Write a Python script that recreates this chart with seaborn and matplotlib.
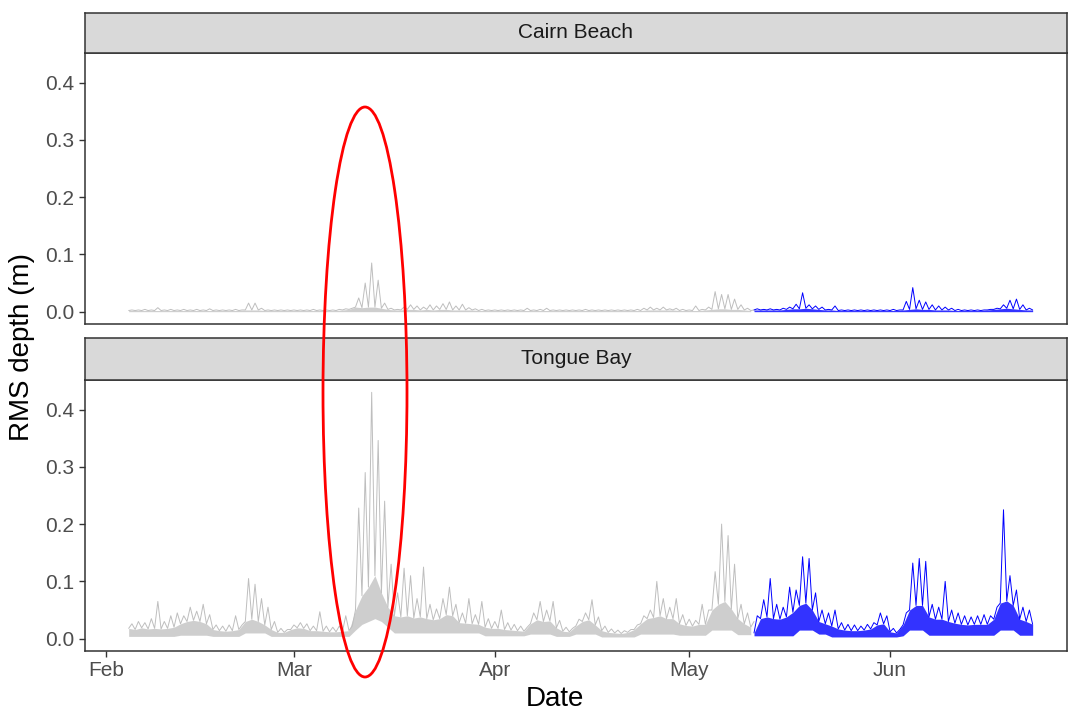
import numpy as np
import pandas as pd
import matplotlib
matplotlib.use("Agg")
import matplotlib.pyplot as plt
import matplotlib.dates as mdates
from matplotlib.patches import Ellipse
import seaborn as sns

# ---------------- data ----------------
# 12-hourly samples; even positions = top of the dense noise band,
# odd positions = spike peaks.  *_floor = bottom of the noise band
# at the even positions.
sites = ["Cairn Beach", "Tongue Bay"]
grey_start = "2020-02-04 12:00"
blue_start = "2020-05-11 00:00"
sample_step = "12h"

cb_grey = [
    0.002, 0.003, 0.002, 0.003, 0.002, 0.004, 0.002, 0.003, 0.002, 0.007,
    0.002, 0.003, 0.002, 0.004, 0.002, 0.003, 0.002, 0.004, 0.002, 0.003,
    0.002, 0.004, 0.002, 0.003, 0.002, 0.005, 0.002, 0.003, 0.002, 0.003,
    0.002, 0.003, 0.002, 0.004, 0.002, 0.003, 0.003, 0.015, 0.003, 0.015,
    0.003, 0.006, 0.002, 0.003, 0.002, 0.003, 0.002, 0.003, 0.002, 0.003,
    0.002, 0.003, 0.002, 0.003, 0.002, 0.003, 0.002, 0.004, 0.002, 0.003,
    0.002, 0.003, 0.002, 0.003, 0.002, 0.004, 0.003, 0.005, 0.004, 0.006,
    0.008, 0.024, 0.007, 0.050, 0.008, 0.085, 0.008, 0.055, 0.006, 0.015,
    0.004, 0.006, 0.003, 0.004, 0.003, 0.008, 0.004, 0.012, 0.004, 0.010,
    0.003, 0.008, 0.004, 0.012, 0.003, 0.010, 0.004, 0.014, 0.004, 0.017,
    0.003, 0.010, 0.003, 0.013, 0.003, 0.007, 0.003, 0.005, 0.002, 0.004,
    0.002, 0.003, 0.002, 0.003, 0.002, 0.003, 0.002, 0.003, 0.002, 0.003,
    0.002, 0.003, 0.002, 0.006, 0.002, 0.003, 0.002, 0.004, 0.002, 0.006,
    0.002, 0.003, 0.002, 0.003, 0.002, 0.003, 0.002, 0.003, 0.002, 0.003,
    0.002, 0.004, 0.002, 0.003, 0.002, 0.003, 0.002, 0.003, 0.002, 0.003,
    0.002, 0.003, 0.002, 0.003, 0.002, 0.003, 0.002, 0.004, 0.002, 0.006,
    0.003, 0.008, 0.003, 0.006, 0.003, 0.008, 0.003, 0.005, 0.003, 0.006,
    0.002, 0.004, 0.002, 0.003, 0.002, 0.010, 0.002, 0.004, 0.003, 0.008,
    0.004, 0.035, 0.005, 0.030, 0.005, 0.030, 0.004, 0.022, 0.004, 0.012,
    0.003, 0.006, 0.002, 0.003,
]
cb_blue = [
    0.003, 0.005, 0.003, 0.004, 0.003, 0.005, 0.003, 0.004, 0.003, 0.006,
    0.004, 0.008, 0.005, 0.013, 0.005, 0.033, 0.006, 0.012, 0.005, 0.010,
    0.004, 0.008, 0.003, 0.004, 0.003, 0.010, 0.002, 0.003, 0.002, 0.003,
    0.002, 0.003, 0.002, 0.003, 0.002, 0.003, 0.002, 0.003, 0.002, 0.003,
    0.002, 0.003, 0.002, 0.004, 0.002, 0.003, 0.003, 0.018, 0.004, 0.042,
    0.005, 0.020, 0.004, 0.017, 0.004, 0.012, 0.003, 0.010, 0.003, 0.008,
    0.003, 0.006, 0.002, 0.004, 0.002, 0.003, 0.002, 0.003, 0.002, 0.003,
    0.002, 0.003, 0.003, 0.004, 0.004, 0.006, 0.005, 0.012, 0.006, 0.020,
    0.005, 0.022, 0.004, 0.012, 0.003, 0.006, 0.003,
]
tb_grey = [
    0.018, 0.026, 0.016, 0.030, 0.019, 0.028, 0.017, 0.035, 0.018, 0.065,
    0.017, 0.030, 0.018, 0.040, 0.020, 0.045, 0.026, 0.040, 0.030, 0.055,
    0.032, 0.048, 0.030, 0.060, 0.026, 0.042, 0.016, 0.024, 0.014, 0.022,
    0.013, 0.024, 0.014, 0.040, 0.016, 0.024, 0.030, 0.105, 0.034, 0.095,
    0.030, 0.070, 0.024, 0.055, 0.016, 0.030, 0.011, 0.018, 0.011, 0.016,
    0.016, 0.024, 0.019, 0.028, 0.018, 0.026, 0.014, 0.022, 0.014, 0.047,
    0.013, 0.022, 0.012, 0.020, 0.012, 0.022, 0.013, 0.040, 0.014, 0.022,
    0.050, 0.228, 0.075, 0.290, 0.090, 0.430, 0.110, 0.346, 0.080, 0.240,
    0.055, 0.130, 0.040, 0.080, 0.038, 0.123, 0.040, 0.110, 0.036, 0.070,
    0.038, 0.125, 0.035, 0.060, 0.033, 0.052, 0.035, 0.070, 0.042, 0.090,
    0.040, 0.060, 0.028, 0.045, 0.027, 0.070, 0.026, 0.042, 0.025, 0.065,
    0.020, 0.035, 0.018, 0.030, 0.018, 0.050, 0.016, 0.028, 0.015, 0.025,
    0.014, 0.022, 0.013, 0.020, 0.026, 0.045, 0.033, 0.065, 0.030, 0.050,
    0.031, 0.065, 0.019, 0.032, 0.013, 0.020, 0.012, 0.018, 0.022, 0.034,
    0.030, 0.045, 0.033, 0.068, 0.024, 0.038, 0.014, 0.022, 0.011, 0.017,
    0.010, 0.015, 0.009, 0.014, 0.011, 0.016, 0.016, 0.024, 0.026, 0.040,
    0.035, 0.050, 0.037, 0.100, 0.040, 0.070, 0.035, 0.055, 0.035, 0.070,
    0.026, 0.042, 0.023, 0.034, 0.022, 0.032, 0.025, 0.060, 0.025, 0.050,
    0.050, 0.117, 0.060, 0.200, 0.065, 0.180, 0.052, 0.130, 0.035, 0.060,
    0.026, 0.045, 0.020, 0.030,
]
tb_grey_floor = [
    0.004, 0.004, 0.004, 0.004, 0.004, 0.004, 0.004, 0.004, 0.006, 0.006,
    0.006, 0.006, 0.006, 0.004, 0.004, 0.004, 0.004, 0.004, 0.010, 0.010,
    0.010, 0.010, 0.004, 0.004, 0.004, 0.004, 0.004, 0.004, 0.004, 0.004,
    0.004, 0.004, 0.004, 0.004, 0.004, 0.015, 0.025, 0.030, 0.035, 0.030,
    0.020, 0.010, 0.010, 0.010, 0.010, 0.010, 0.010, 0.010, 0.010, 0.010,
    0.010, 0.010, 0.010, 0.010, 0.010, 0.005, 0.005, 0.005, 0.005, 0.005,
    0.005, 0.005, 0.008, 0.008, 0.008, 0.008, 0.004, 0.004, 0.004, 0.008,
    0.008, 0.008, 0.008, 0.003, 0.003, 0.003, 0.003, 0.003, 0.003, 0.008,
    0.008, 0.008, 0.008, 0.008, 0.008, 0.006, 0.006, 0.006, 0.006, 0.006,
    0.015, 0.015, 0.015, 0.015, 0.007, 0.007, 0.007,
]
tb_blue = [
    0.010, 0.040, 0.035, 0.068, 0.038, 0.105, 0.035, 0.060, 0.034, 0.055,
    0.038, 0.090, 0.046, 0.085, 0.058, 0.143, 0.062, 0.140, 0.050, 0.080,
    0.030, 0.050, 0.026, 0.045, 0.022, 0.050, 0.017, 0.028, 0.015, 0.025,
    0.014, 0.024, 0.014, 0.022, 0.015, 0.025, 0.017, 0.028, 0.024, 0.045,
    0.026, 0.040, 0.012, 0.018, 0.010, 0.016, 0.024, 0.045, 0.050, 0.132,
    0.058, 0.140, 0.058, 0.135, 0.038, 0.060, 0.034, 0.055, 0.034, 0.100,
    0.030, 0.050, 0.027, 0.045, 0.025, 0.040, 0.024, 0.038, 0.025, 0.040,
    0.025, 0.042, 0.025, 0.040, 0.034, 0.055, 0.062, 0.225, 0.066, 0.110,
    0.058, 0.085, 0.034, 0.055, 0.030, 0.050, 0.025,
]
tb_blue_floor = [
    0.005, 0.005, 0.005, 0.005, 0.005, 0.005, 0.005, 0.015, 0.015, 0.015,
    0.008, 0.008, 0.003, 0.003, 0.003, 0.003, 0.003, 0.003, 0.003, 0.003,
    0.003, 0.003, 0.003, 0.005, 0.015, 0.015, 0.015, 0.006, 0.006, 0.006,
    0.006, 0.006, 0.006, 0.006, 0.006, 0.006, 0.006, 0.006, 0.015, 0.015,
    0.015, 0.006, 0.006, 0.006,
]

month_ticks = ["2020-02-01", "2020-03-01", "2020-04-01", "2020-05-01", "2020-06-01"]
month_labels = ["Feb", "Mar", "Apr", "May", "Jun"]
y_ticks = [0.0, 0.1, 0.2, 0.3, 0.4]
y_tick_labels = ["0.0", "0.1", "0.2", "0.3", "0.4"]

# ---------------- build tables ----------------
series = {
    ("Cairn Beach", "grey"): (grey_start, cb_grey, None),
    ("Cairn Beach", "blue"): (blue_start, cb_blue, None),
    ("Tongue Bay", "grey"): (grey_start, tb_grey, tb_grey_floor),
    ("Tongue Bay", "blue"): (blue_start, tb_blue, tb_blue_floor),
}
frames = []
for (site, phase), (start, vals, floor) in series.items():
    t = pd.date_range(start, periods=len(vals), freq=sample_step)
    frames.append(pd.DataFrame({"site": site, "phase": phase, "time": t, "rms": vals}))
df = pd.concat(frames, ignore_index=True)

# ---------------- style ----------------
sns.set_style("white")
plt.rcParams["font.family"] = ["Liberation Sans", "DejaVu Sans"]

W, H = 1068, 710
fig = plt.figure(figsize=(W / 100, H / 100), dpi=100)
fig.patch.set_facecolor("white")

def fx(px):
    return px / W

def fy(py):
    return 1 - py / H

left_px, right_px = 85, 1067
panels = {
    "Cairn Beach": dict(strip=(13, 53), panel=(53, 324)),
    "Tongue Bay": dict(strip=(338, 380), panel=(380, 651)),
}
phase_colors = {"grey": "#BEBEBE", "blue": "#0000FF"}
band_alpha = {"grey": 0.75, "blue": 0.8}
border = "#333333"

x0 = pd.Timestamp("2020-02-01")
xlim = (mdates.date2num(x0 - pd.Timedelta(days=3.24)),
        mdates.date2num(x0 + pd.Timedelta(days=148.3)))

for site in sites:
    st, pn = panels[site]["strip"], panels[site]["panel"]
    ax = fig.add_axes([fx(left_px), fy(pn[1]), fx(right_px - left_px), (pn[1] - pn[0]) / H])
    for phase in ["grey", "blue"]:
        start, vals, floor = series[(site, phase)]
        s = df[(df["site"] == site) & (df["phase"] == phase)]
        # dense noise band: from its floor up to the band top (even samples)
        band = s.iloc[::2]
        lower = floor if floor is not None else np.zeros(len(band))
        ax.fill_between(band["time"], lower, band["rms"], color=phase_colors[phase],
                        alpha=band_alpha[phase], linewidth=0, zorder=2)
        sns.lineplot(data=s, x="time", y="rms", color=phase_colors[phase],
                     linewidth=0.7, estimator=None, ax=ax, legend=False, zorder=3)
    ax.set_xlim(*xlim)
    ax.set_ylim(-0.0215, 0.4515)
    ax.set_yticks(y_ticks)
    ax.set_yticklabels(y_tick_labels)
    ax.set_xticks([mdates.date2num(pd.Timestamp(d)) for d in month_ticks])
    ax.set_xlabel("")
    ax.set_ylabel("")
    ax.grid(False)
    for sp in ax.spines.values():
        sp.set_color(border)
        sp.set_linewidth(1.1)
    ax.tick_params(axis="both", which="both", length=4.5, width=1.0, color=border,
                   labelcolor="#4D4D4D", labelsize=15, pad=3, direction="out",
                   bottom=True, left=True)
    if site == "Tongue Bay":
        ax.set_xticklabels(month_labels)
    else:
        ax.tick_params(axis="x", bottom=False, labelbottom=False)

    # facet strip
    sax = fig.add_axes([fx(left_px), fy(st[1]), fx(right_px - left_px), (st[1] - st[0]) / H])
    sax.set_facecolor("#D9D9D9")
    sax.set_xticks([])
    sax.set_yticks([])
    for sp in sax.spines.values():
        sp.set_color(border)
        sp.set_linewidth(1.1)
    sax.text(0.5, 0.5, site, ha="center", va="center", fontsize=15,
             color="#1A1A1A", transform=sax.transAxes)

fig.text(fx(22), fy(347), "RMS depth (m)", rotation=90, ha="center", va="center",
         fontsize=20, color="black")
fig.text(fx(555), fy(699), "Date", ha="center", va="center", fontsize=20, color="black")

# red highlight ellipse drawn over the figure
ell = Ellipse((fx(365), fy(392)), fx(84), 570 / H, transform=fig.transFigure,
              fill=False, edgecolor="#FF0000", linewidth=2.0, clip_on=False, zorder=10)
fig.add_artist(ell)

fig.savefig("out.png", dpi=100, facecolor="white")
